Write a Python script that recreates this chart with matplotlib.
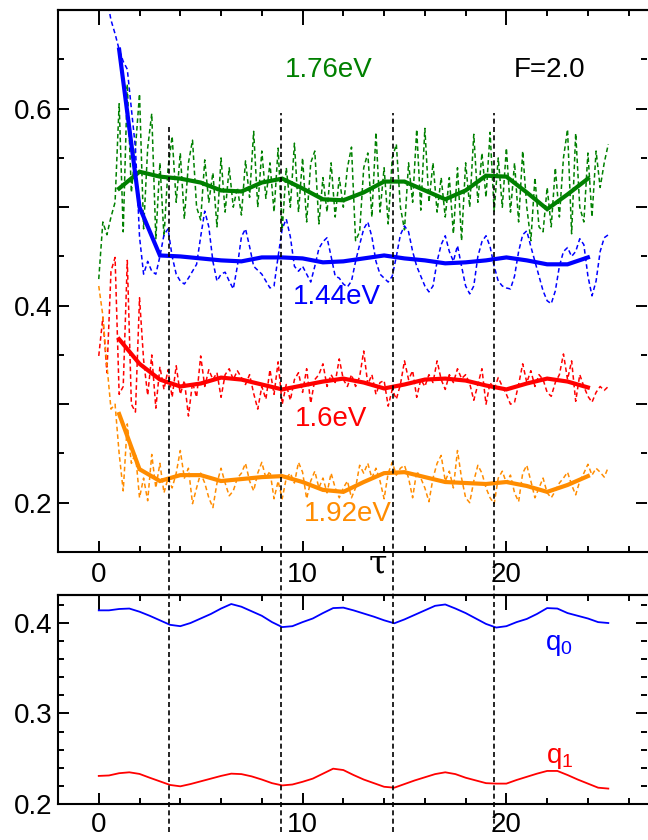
import numpy as np
import matplotlib
matplotlib.use('Agg')
import matplotlib.pyplot as plt
from matplotlib.lines import Line2D
from matplotlib.ticker import MultipleLocator, FixedLocator, FuncFormatter
from matplotlib.transforms import blended_transform_factory

plt.rcParams['font.family'] = ['Liberation Sans', 'DejaVu Sans']
plt.rcParams['mathtext.fontset'] = 'custom'
plt.rcParams['mathtext.rm'] = 'Liberation Sans'
plt.rcParams['mathtext.default'] = 'regular'

# ── DATA ──────────────────────────────────────────────────────────────────────

# raw (dashed) curves, sampled every 0.2 in tau from 0 to 25
tau_raw = np.linspace(0, 25, 126)

green_raw = [
    0.427, 0.485, 0.472, 0.490, 0.505, 0.605, 0.475, 0.625, 0.515, 0.560,
    0.615, 0.478, 0.560, 0.595, 0.468, 0.545, 0.470, 0.540, 0.572, 0.505,
    0.555, 0.488, 0.545, 0.568, 0.500, 0.487, 0.548, 0.505, 0.535, 0.480,
    0.550, 0.495, 0.540, 0.500, 0.520, 0.492, 0.547, 0.510, 0.577, 0.500,
    0.557, 0.509, 0.545, 0.495, 0.560, 0.477, 0.540, 0.500, 0.565, 0.495,
    0.550, 0.485, 0.545, 0.557, 0.483, 0.530, 0.495, 0.545, 0.490, 0.530,
    0.500, 0.540, 0.561, 0.466, 0.475, 0.540, 0.555, 0.490, 0.576, 0.495,
    0.540, 0.483, 0.550, 0.564, 0.500, 0.477, 0.545, 0.505, 0.579, 0.497,
    0.580, 0.505, 0.545, 0.495, 0.530, 0.490, 0.530, 0.473, 0.540, 0.466,
    0.545, 0.500, 0.574, 0.505, 0.555, 0.510, 0.576, 0.496, 0.550, 0.500,
    0.560, 0.495, 0.545, 0.485, 0.557, 0.500, 0.466, 0.530, 0.480, 0.475,
    0.520, 0.480, 0.540, 0.490, 0.550, 0.579, 0.473, 0.575, 0.500, 0.485,
    0.555, 0.490, 0.557, 0.520, 0.545, 0.564,
]

blue_raw = [
    0.850, 0.790, 0.712, 0.690, 0.676, 0.660, 0.648, 0.640, 0.600, 0.560,
    0.470, 0.432, 0.445, 0.435, 0.432, 0.450, 0.472, 0.478, 0.450, 0.432,
    0.425, 0.422, 0.428, 0.435, 0.442, 0.470, 0.496, 0.480, 0.445, 0.425,
    0.432, 0.434, 0.425, 0.417, 0.440, 0.470, 0.478, 0.460, 0.440, 0.436,
    0.432, 0.425, 0.418, 0.420, 0.450, 0.478, 0.488, 0.470, 0.440, 0.435,
    0.440, 0.432, 0.424, 0.440, 0.458, 0.465, 0.469, 0.450, 0.430, 0.428,
    0.422, 0.419, 0.425, 0.445, 0.462, 0.478, 0.485, 0.470, 0.445, 0.432,
    0.428, 0.424, 0.430, 0.450, 0.472, 0.481, 0.475, 0.455, 0.440, 0.430,
    0.420, 0.414, 0.420, 0.445, 0.462, 0.471, 0.455, 0.445, 0.461, 0.440,
    0.420, 0.412, 0.420, 0.450, 0.465, 0.471, 0.460, 0.440, 0.425, 0.420,
    0.418, 0.417, 0.430, 0.455, 0.472, 0.476, 0.460, 0.445, 0.430, 0.415,
    0.405, 0.402, 0.415, 0.440, 0.455, 0.459, 0.450, 0.455, 0.468, 0.462,
    0.430, 0.410, 0.425, 0.455, 0.469, 0.472,
]

red_raw = [
    0.349, 0.388, 0.332, 0.435, 0.449, 0.310, 0.318, 0.446, 0.300, 0.292,
    0.408, 0.345, 0.309, 0.350, 0.296, 0.338, 0.315, 0.335, 0.307, 0.339,
    0.310, 0.324, 0.288, 0.322, 0.307, 0.349, 0.318, 0.335, 0.325, 0.332,
    0.307, 0.330, 0.336, 0.325, 0.334, 0.327, 0.320, 0.330, 0.311, 0.295,
    0.318, 0.305, 0.335, 0.310, 0.343, 0.300, 0.320, 0.304, 0.325, 0.332,
    0.312, 0.336, 0.301, 0.325, 0.330, 0.341, 0.318, 0.330, 0.322, 0.346,
    0.325, 0.318, 0.330, 0.318, 0.328, 0.354, 0.320, 0.330, 0.310, 0.322,
    0.324, 0.298, 0.315, 0.305, 0.320, 0.344, 0.325, 0.334, 0.307, 0.325,
    0.318, 0.330, 0.322, 0.344, 0.325, 0.315, 0.330, 0.322, 0.336, 0.326,
    0.330, 0.321, 0.304, 0.320, 0.336, 0.300, 0.322, 0.315, 0.327, 0.318,
    0.310, 0.300, 0.302, 0.320, 0.341, 0.322, 0.334, 0.318, 0.330, 0.325,
    0.312, 0.308, 0.322, 0.330, 0.351, 0.325, 0.344, 0.303, 0.330, 0.318,
    0.308, 0.302, 0.312, 0.318, 0.314, 0.318,
]

orange_raw = [
    0.420, 0.390, 0.340, 0.295, 0.300, 0.250, 0.212, 0.280, 0.240, 0.250,
    0.205, 0.225, 0.202, 0.249, 0.215, 0.240, 0.210, 0.225, 0.215, 0.230,
    0.253, 0.225, 0.235, 0.199, 0.215, 0.230, 0.220, 0.205, 0.195, 0.220,
    0.235, 0.220, 0.207, 0.212, 0.225, 0.230, 0.240, 0.222, 0.212, 0.230,
    0.241, 0.225, 0.232, 0.204, 0.222, 0.204, 0.225, 0.230, 0.220, 0.241,
    0.231, 0.204, 0.222, 0.232, 0.215, 0.225, 0.210, 0.230, 0.215, 0.205,
    0.215, 0.222, 0.205, 0.215, 0.238, 0.230, 0.240, 0.225, 0.235, 0.222,
    0.204, 0.230, 0.241, 0.228, 0.235, 0.238, 0.225, 0.205, 0.232, 0.225,
    0.215, 0.201, 0.225, 0.240, 0.248, 0.222, 0.232, 0.215, 0.253, 0.225,
    0.205, 0.200, 0.222, 0.238, 0.230, 0.215, 0.205, 0.199, 0.225, 0.232,
    0.220, 0.228, 0.210, 0.201, 0.230, 0.238, 0.222, 0.205, 0.215, 0.225,
    0.210, 0.205, 0.212, 0.220, 0.225, 0.231, 0.218, 0.208, 0.222, 0.230,
    0.239, 0.228, 0.235, 0.231, 0.226, 0.236,
]

# averaged (solid) curves, tau = 1 .. 24
tau_avg = np.arange(1, 25)
green_avg  = [0.519, 0.536, 0.531, 0.529, 0.525, 0.517, 0.516, 0.525, 0.529, 0.519,
              0.508, 0.507, 0.515, 0.526, 0.526, 0.517, 0.508, 0.517, 0.532, 0.531,
              0.515, 0.498, 0.513, 0.529]
blue_avg   = [0.660, 0.500, 0.451, 0.450, 0.448, 0.446, 0.445, 0.449, 0.449, 0.448,
              0.444, 0.445, 0.448, 0.451, 0.448, 0.446, 0.443, 0.444, 0.446, 0.449,
              0.446, 0.442, 0.442, 0.449]
red_avg    = [0.366, 0.341, 0.325, 0.318, 0.321, 0.327, 0.325, 0.320, 0.315, 0.319,
              0.323, 0.326, 0.322, 0.316, 0.320, 0.325, 0.326, 0.324, 0.319, 0.315,
              0.321, 0.326, 0.323, 0.317]
orange_avg = [0.290, 0.234, 0.222, 0.228, 0.228, 0.222, 0.224, 0.226, 0.227, 0.221,
              0.213, 0.211, 0.221, 0.230, 0.231, 0.226, 0.221, 0.220, 0.219, 0.221,
              0.217, 0.211, 0.218, 0.227]

# occupations, sampled every 0.5 in tau
tau_q = np.linspace(0, 25, 51)
q0 = [0.414, 0.414, 0.4155, 0.416, 0.4125, 0.408, 0.403, 0.398, 0.3965, 0.400,
      0.405, 0.410, 0.416, 0.421, 0.418, 0.413, 0.408, 0.401, 0.3955, 0.3965,
      0.401, 0.405, 0.411, 0.4165, 0.417, 0.414, 0.4105, 0.407, 0.403, 0.3997,
      0.404, 0.409, 0.414, 0.419, 0.4205, 0.416, 0.411, 0.405, 0.399, 0.395,
      0.3965, 0.401, 0.4045, 0.410, 0.4165, 0.416, 0.411, 0.408, 0.405, 0.401,
      0.400]
q1 = [0.231, 0.2315, 0.234, 0.235, 0.2332, 0.229, 0.225, 0.221, 0.2195, 0.222,
      0.225, 0.228, 0.231, 0.2335, 0.233, 0.2305, 0.227, 0.223, 0.2205, 0.2215,
      0.2245, 0.228, 0.2335, 0.239, 0.2375, 0.232, 0.227, 0.223, 0.219, 0.218,
      0.222, 0.226, 0.2295, 0.233, 0.235, 0.233, 0.229, 0.226, 0.223, 0.2225,
      0.2225, 0.2265, 0.230, 0.2335, 0.2365, 0.2365, 0.232, 0.227, 0.2225, 0.218,
      0.217]

# vertical marker positions (tau)
tau_marks = [3.43, 8.93, 14.43, 19.4]

GREEN, BLUE, RED, ORANGE = '#008000', '#0000ff', '#ff0000', '#ff8c00'


# ── FIGURE ────────────────────────────────────────────────────────────────────

fig = plt.figure(figsize=(6.48, 8.4), dpi=100)
ax1 = fig.add_axes([0.0895, 0.3429, 0.909, 0.645])
ax2 = fig.add_axes([0.0895, 0.0429, 0.909, 0.2488])

dash = (0, (3, 2))
for raw, avg, col in [(green_raw, green_avg, GREEN), (blue_raw, blue_avg, BLUE),
                      (red_raw, red_avg, RED), (orange_raw, orange_avg, ORANGE)]:
    ax1.plot(tau_raw, raw, color=col, lw=1.1, linestyle=dash)
    ax1.plot(tau_avg, avg, color=col, lw=3.0, solid_joinstyle='miter')

ax1.set_xlim(-2, 26.9)
ax1.set_ylim(0.15, 0.70)

ax1.text(11.3, 0.639, '1.76eV', color=GREEN, fontsize=20, ha='center', va='center')
ax1.text(22.1, 0.639, 'F=2.0', color='black', fontsize=20, ha='center', va='center')
ax1.text(11.7, 0.409, '1.44eV', color=BLUE, fontsize=20, ha='center', va='center')
ax1.text(11.4, 0.285, '1.6eV', color=RED, fontsize=20, ha='center', va='center')
ax1.text(12.2, 0.189, '1.92eV', color=ORANGE, fontsize=20, ha='center', va='center')

ax2.plot(tau_q, q0, color=BLUE, lw=1.3)
ax2.plot(tau_q, q1, color=RED, lw=1.3)
ax2.set_xlim(-2, 26.9)
ax2.set_ylim(0.2, 0.431)
ax2.text(22.6, 0.376, r'q$_0$', color=BLUE, fontsize=20, ha='center', va='center')
ax2.text(22.6, 0.251, r'q$_1$', color=RED, fontsize=20, ha='center', va='center')

# ── AXES STYLE ────────────────────────────────────────────────────────────────

ax1.yaxis.set_major_locator(FixedLocator([0.2, 0.3, 0.4, 0.5, 0.6]))
ax1.yaxis.set_major_formatter(FuncFormatter(
    lambda v, p: f'{v:.1f}' if round(v * 10) % 2 == 0 else ''))
ax1.yaxis.set_minor_locator(MultipleLocator(0.05))
ax2.yaxis.set_major_locator(FixedLocator([0.2, 0.3, 0.4]))
ax2.yaxis.set_major_formatter(FuncFormatter(lambda v, p: f'{v:.1f}'))
ax2.yaxis.set_minor_locator(MultipleLocator(0.02))

for ax, xpad in [(ax1, 7), (ax2, 6)]:
    ax.xaxis.set_major_locator(FixedLocator([0, 10, 20]))
    ax.xaxis.set_minor_locator(MultipleLocator(2))
    ax.tick_params(which='both', direction='in', top=True, right=True,
                   width=1.4, labelsize=20, colors='black')
    ax.tick_params(which='major', length=8)
    ax.tick_params(which='minor', length=4)
    ax.tick_params(axis='x', pad=xpad)
    ax.tick_params(axis='x', which='major', top=False)
    ax.tick_params(axis='y', pad=4)
    for side in ['left', 'top', 'bottom']:
        ax.spines[side].set_linewidth(1.5)
    ax.spines['right'].set_visible(False)
    # longer major ticks along the top edge
    top = ax.secondary_xaxis('top')
    top.set_xticks([0, 10, 20])
    top.tick_params(direction='in', length=11, width=1.4, labeltop=False)
    top.spines['top'].set_linewidth(1.5)

fig.text(378 / 648, 1 - 565 / 840, 'τ', fontsize=24, family='DejaVu Serif',
         ha='center', va='center')

# dashed markers running through both panels
trans = blended_transform_factory(ax1.transData, fig.transFigure)
tops = [0.851, 0.8655, 0.8655, 0.8655]
for x, top_y in zip(tau_marks, tops):
    fig.add_artist(Line2D([x, x], [0.0095, top_y], transform=trans, color='black',
                          lw=1.2, linestyle=(0, (3, 2))))

plt.savefig('out.png', dpi=100)
